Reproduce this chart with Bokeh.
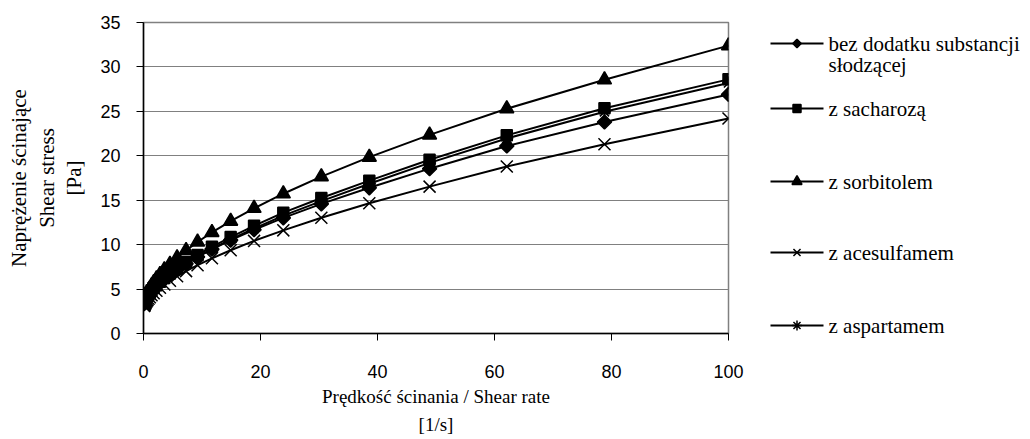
import math
from bokeh.plotting import figure
from bokeh.layouts import row
from bokeh.models import Range1d, FixedTicker, Label
from bokeh.embed import file_html
from bokeh.resources import INLINE

# ---- data ----
shear_rate = [0.1, 0.127, 0.161, 0.204, 0.259, 0.329, 0.418, 0.53, 0.672, 0.853,
              1.08, 1.37, 1.74, 2.21, 2.81, 3.56, 4.52, 5.74, 7.28, 9.24,
              11.7, 14.9, 18.9, 23.9, 30.4, 38.6, 48.9, 62.1, 78.8, 100]

bez_dodatku = [3.36, 3.41, 3.48, 3.55, 3.64, 3.74, 3.86, 3.99, 4.14, 4.32,
               4.52, 4.76, 5.04, 5.35, 5.72, 6.15, 6.64, 7.21, 7.86, 8.62,
               9.48, 10.51, 11.68, 13.01, 14.59, 16.40, 18.55, 21.1, 23.8, 26.9]
sacharoza = [3.44, 3.49, 3.55, 3.63, 3.71, 3.81, 3.92, 4.06, 4.21, 4.39,
             4.6, 4.84, 5.12, 5.44, 5.82, 6.25, 6.76, 7.36, 8.04, 8.84,
             9.76, 10.85, 12.12, 13.6, 15.25, 17.2, 19.55, 22.3, 25.35, 28.6]
sorbitol = [3.52, 3.59, 3.68, 3.79, 3.90, 4.04, 4.19, 4.37, 4.58, 4.81,
            5.08, 5.39, 5.75, 6.16, 6.64, 7.18, 7.80, 8.52, 9.35, 10.30,
            11.38, 12.65, 14.09, 15.73, 17.65, 19.85, 22.35, 25.3, 28.55, 32.4]
acesulfam = [3.10, 3.14, 3.20, 3.26, 3.33, 3.42, 3.52, 3.63, 3.76, 3.91,
             4.09, 4.30, 4.54, 4.81, 5.14, 5.51, 5.94, 6.44, 7.02, 7.69,
             8.46, 9.37, 10.42, 11.61, 13.03, 14.66, 16.53, 18.8, 21.3, 24.2]
aspartam = [3.40, 3.45, 3.51, 3.58, 3.66, 3.75, 3.86, 3.99, 4.13, 4.30,
            4.5, 4.73, 5.0, 5.31, 5.68, 6.1, 6.6, 7.18, 7.85, 8.62,
            9.52, 10.58, 11.82, 13.27, 14.9, 16.85, 19.2, 21.95, 24.95, 28.2]

series_labels = ["bez dodatku substancji\nsłodzącej", "z sacharozą", "z sorbitolem",
                 "z acesulfamem", "z aspartamem"]
series_values = [bez_dodatku, sacharoza, sorbitol, acesulfam, aspartam]

x_ticks = [0, 20, 40, 60, 80, 100]
y_ticks = [0, 5, 10, 15, 20, 25, 30, 35]

x_title = "Prędkość ścinania / Shear rate\n[1/s]"
y_title = "Naprężenie ścinające\nShear stress\n[Pa]"

# ---- styles ----
marker_styles = [
    dict(marker="square", size=10, angle=math.pi / 4, lsize=6),
    dict(marker="square", size=11, angle=0, lsize=8),
    dict(marker="triangle", size=14, angle=0, lsize=10),
    dict(marker="x", size=17, angle=0, lsize=10),
    dict(marker="asterisk", size=13, angle=0, lsize=10),
]

SERIF = "Liberation Serif"
SANS = "Liberation Sans"

TOP, BOTTOM, LEFT = 22, 106, 143
FW, FH = 585, 311
H = TOP + FH + BOTTOM

p = figure(frame_width=FW, frame_height=FH,
           min_border_left=LEFT, min_border_right=30,
           min_border_top=TOP, min_border_bottom=BOTTOM,
           x_range=Range1d(0, 100), y_range=Range1d(0, 35),
           output_backend="svg", toolbar_location=None)

p.background_fill_color = "white"
p.border_fill_color = "white"
p.outline_line_color = "#808080"
p.outline_line_width = 1.5

p.xgrid.visible = False
p.ygrid.grid_line_color = "#808080"
p.ygrid.grid_line_width = 1

for ax in (p.xaxis[0], p.yaxis[0]):
    ax.axis_line_color = "black"
    ax.axis_line_width = 1.5
    ax.major_tick_line_color = "black"
    ax.major_tick_line_width = 1
    ax.major_tick_in = 0
    ax.major_tick_out = 7
    ax.minor_tick_line_color = None
    ax.major_label_text_font = SANS
    ax.major_label_text_font_size = "18px"
    ax.major_label_text_color = "black"
    ax.axis_label_text_font = SERIF
    ax.axis_label_text_font_style = "normal"
    ax.axis_label_text_color = "black"

p.xaxis.ticker = FixedTicker(ticks=x_ticks)
p.yaxis.ticker = FixedTicker(ticks=y_ticks)
p.xaxis.major_label_standoff = 24
p.yaxis.major_label_standoff = 16

p.xaxis.axis_label = x_title
p.xaxis.axis_label_text_font_size = "19px"
p.xaxis.axis_label_text_line_height = 1.35
p.xaxis.axis_label_standoff = 5
p.yaxis.axis_label = y_title
p.yaxis.axis_label_text_font_size = "21px"
p.yaxis.axis_label_text_line_height = 1.15
p.yaxis.axis_label_standoff = 11

for vals, st in zip(series_values, marker_styles):
    p.line(shear_rate, vals, line_color="black", line_width=2)
    p.scatter(shear_rate, vals, marker=st["marker"], size=st["size"],
              angle=st["angle"], fill_color="black", line_color="black",
              line_width=1.5)

# ---- legend panel (separate figure to the right; y = px above chart bottom) ----
LW = 272
LEG_BOTTOM = 26
lg = figure(frame_width=LW, frame_height=H - TOP - LEG_BOTTOM,
            min_border_left=0, min_border_right=0,
            min_border_top=TOP, min_border_bottom=LEG_BOTTOM,
            x_range=Range1d(0, LW), y_range=Range1d(LEG_BOTTOM, H - TOP),
            x_axis_type=None, y_axis_type=None,
            output_backend="svg", toolbar_location=None)
lg.xgrid.visible = False
lg.ygrid.visible = False
lg.outline_line_color = None
lg.background_fill_color = "white"
lg.border_fill_color = "white"

entry_centers = [43, 108, 181, 252, 325]   # px from top of the chart
line_x0, line_x1, text_x = 12, 65, 70
for lab, yc, st in zip(series_labels, entry_centers, marker_styles):
    yy = H - yc
    lg.line([line_x0, line_x1], [yy, yy], line_color="black", line_width=2)
    lg.scatter([(line_x0 + line_x1) / 2], [yy], marker=st["marker"], size=st["lsize"],
               angle=st["angle"], fill_color="black", line_color="black", line_width=1.5)
    for k, t in enumerate(lab.split("\n")):
        lg.add_layout(Label(x=text_x, y=yy - 21 * k, text=t, text_font=SERIF,
                            text_font_size="21px", text_baseline="middle",
                            text_align="left", text_color="black"))

layout = row(p, lg, spacing=0)
open("out.html", "w").write(file_html(layout, INLINE))
